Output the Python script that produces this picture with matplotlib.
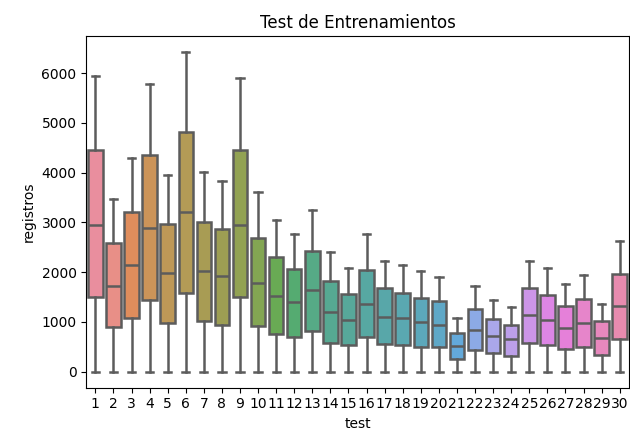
import matplotlib
matplotlib.use("Agg")
import matplotlib.pyplot as plt
import seaborn as sns

# Valores (min, q1, mediana, q3, max) por test
tests = list(range(1, 31))
minimos = [0] * 30
q1 = [1500, 887, 1073, 1433, 973, 1587, 1013, 947, 1500, 913,
      747, 687, 820, 580, 527, 687, 553, 540, 500, 500,
      253, 433, 373, 320, 567, 540, 453, 500, 333, 653]
medianas = [2953, 1713, 2140, 2887, 1973, 3213, 2020, 1913, 2953, 1787,
            1520, 1393, 1633, 1200, 1033, 1367, 1107, 1073, 1007, 940,
            520, 840, 713, 653, 1133, 1033, 880, 973, 680, 1327]
q3 = [4453, 2593, 3213, 4347, 2973, 4807, 3007, 2873, 4453, 2680,
      2300, 2060, 2433, 1820, 1553, 2040, 1687, 1580, 1487, 1420,
      780, 1253, 1067, 947, 1687, 1540, 1313, 1453, 1020, 1967]
maximos = [5940, 3467, 4287, 5773, 3953, 6420, 4020, 3827, 5907, 3607,
           3047, 2760, 3247, 2407, 2080, 2760, 2233, 2140, 2013, 1907,
           1073, 1720, 1433, 1300, 2233, 2073, 1753, 1947, 1367, 2620]

stats = []
for i in range(len(tests)):
    stats.append({"whislo": minimos[i], "q1": q1[i], "med": medianas[i],
                  "q3": q3[i], "whishi": maximos[i], "fliers": []})

# Colores como el boxplot de seaborn, un poco mas claros
colores = [sns.desaturate(c, 0.75) for c in sns.color_palette("husl", len(tests))]
colores = [tuple(0.9 * v + 0.1 for v in c) for c in colores]
gris = (0.36, 0.36, 0.36)

fig = plt.figure(figsize=(6.3, 4.36), dpi=100)
ax = fig.add_axes([0.137, 0.111, 0.861, 0.806])

lp = dict(color=gris, linewidth=1.8)
cajas = ax.bxp(stats, positions=range(len(tests)), widths=0.8, patch_artist=True,
               showfliers=False, boxprops=dict(edgecolor=gris, linewidth=1.8),
               whiskerprops=lp, capprops=lp, medianprops=lp)
for caja, c in zip(cajas["boxes"], colores):
    caja.set_facecolor(c)

ax.set_xticks(range(len(tests)))
ax.set_xticklabels([str(t) for t in tests])
ax.set_xlim(-0.5, len(tests) - 0.5)
ax.set_title("Test de Entrenamientos")
ax.set_xlabel("test")
ax.set_ylabel("registros")

fig.savefig("out.png", dpi=100)
